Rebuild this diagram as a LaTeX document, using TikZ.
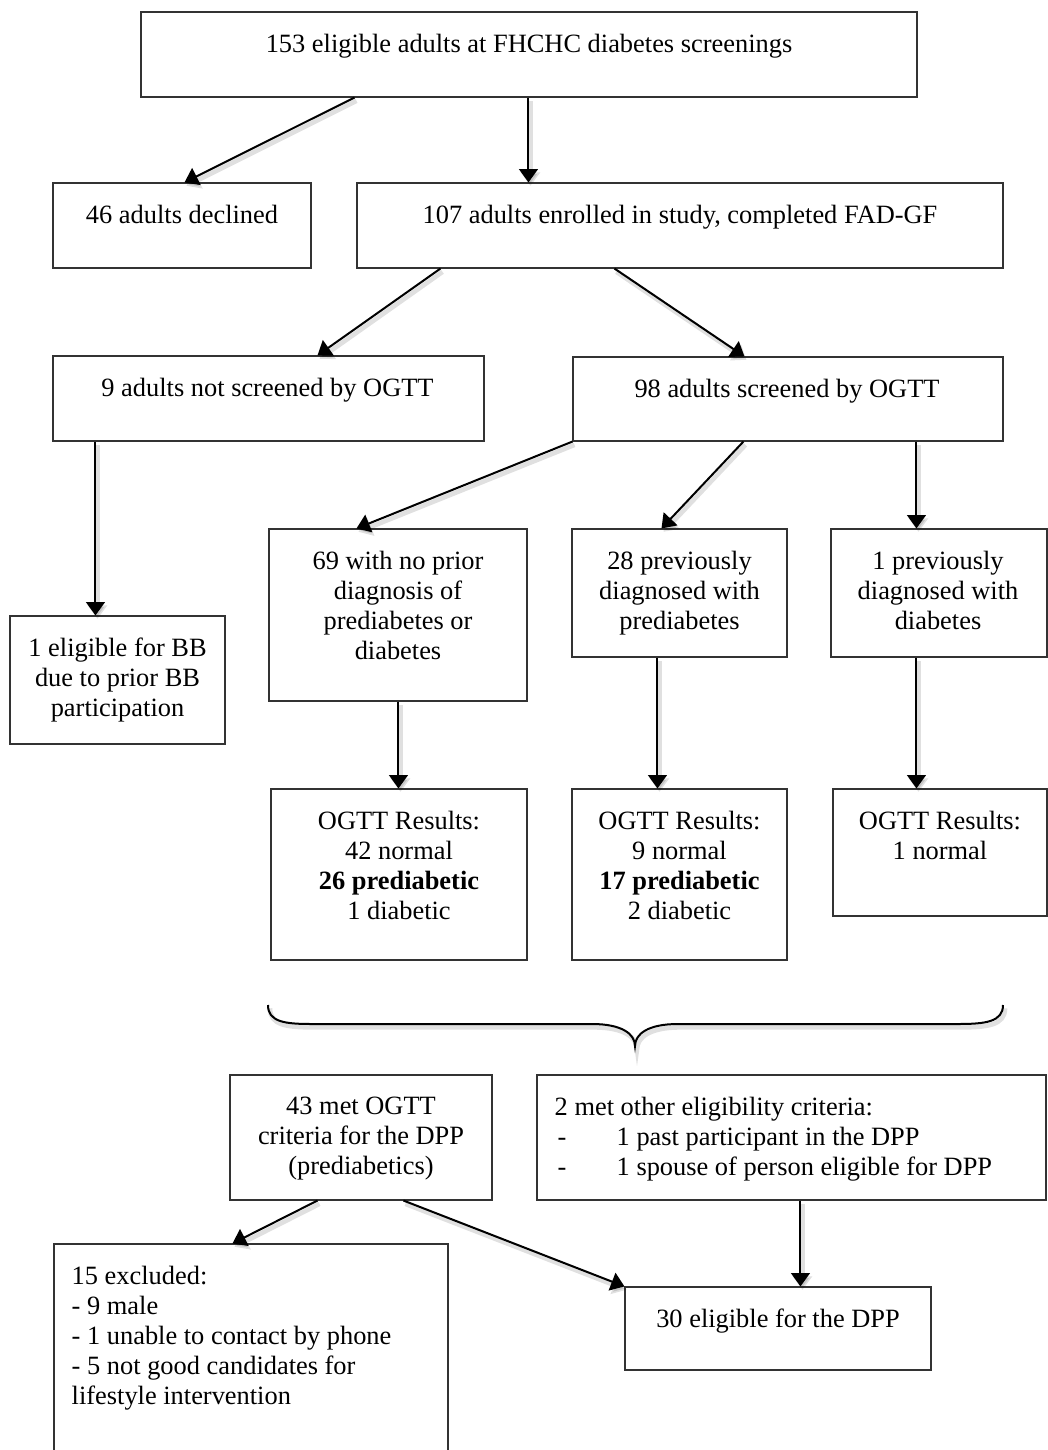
\documentclass[tikz,border=0pt]{standalone}
\usepackage{fontspec}
\setmainfont{Liberation Serif}
\usetikzlibrary{arrows.meta,calc}

% a rectangle given by its corners (in px units)
\newcommand\flowbox[5]{%
  \node[box, minimum width={(#4-#2)*0.75pt}, minimum height={(#5-#3)*0.75pt}]
    (#1) at ({(#2+#4)/2},{(#3+#5)/2}) {};}

\begin{document}
\begin{tikzpicture}[x=0.75pt,y=-0.75pt,
  box/.style={draw=black!80, line width=0.8pt, inner sep=0pt},
  txt/.style={inner sep=0pt, align=center, font=\fontsize{19.8pt}{22.5pt}\selectfont},
  ltxt/.style={inner sep=0pt, align=left, font=\fontsize{19.8pt}{22.5pt}\selectfont},
  shade/.style={preaction={draw=black, opacity=0.12, line width=3.5pt,
      transform canvas={shift={(1.5pt,-2.5pt)}}}},
  arr/.style={line width=1.5pt, shade, -{Triangle[width=14pt,length=10pt]}}]

\clip (0,0) rectangle (1048,1450);
\fill[white] (0,0) rectangle (1048,1450);

% boxes
\flowbox{top}{141}{12}{917}{97}
\flowbox{declined}{53}{183}{311}{268}
\flowbox{enrolled}{357}{183}{1003}{268}
\flowbox{notscr}{53}{356}{484}{441}
\flowbox{scr}{573}{357}{1003}{441}
\flowbox{bb}{10}{616}{225}{744}
\flowbox{noprior}{269}{529}{527}{701}
\flowbox{prevpre}{572}{529}{787}{657}
\flowbox{prevdiab}{831}{529}{1047}{657}
\flowbox{resA}{271}{789}{527}{960}
\flowbox{resB}{572}{789}{787}{960}
\flowbox{resC}{833}{789}{1047}{916}
\flowbox{met}{230}{1075}{492}{1200}
\flowbox{other}{537}{1075}{1046}{1200}
\flowbox{excl}{54}{1244}{448}{1470}
\flowbox{elig}{625}{1287}{931}{1370}

% texts
\node[txt, anchor=north] (top-t) at ($(top.north)+(0,22)$) {153 eligible adults at FHCHC diabetes screenings};
\node[txt, anchor=north] (declined-t) at ($(declined.north)+(0,22)$) {46 adults declined};
\node[txt, anchor=north] (enrolled-t) at ($(enrolled.north)+(0,22)$) {107 adults enrolled in study, completed FAD-GF};
\node[txt, anchor=north] (notscr-t) at ($(notscr.north)+(-1,22)$) {9 adults not screened by OGTT};
\node[txt, anchor=north] (scr-t) at ($(scr.north)+(-1,22)$) {98 adults screened by OGTT};
\node[txt, anchor=north] (bb-t) at ($(bb.north)+(0,22)$) {1 eligible for BB\\due to prior BB\\participation};
\node[txt, anchor=north] (noprior-t) at ($(noprior.north)+(0,22)$) {69 with no prior\\diagnosis of\\prediabetes or\\diabetes};
\node[txt, anchor=north] (prevpre-t) at ($(prevpre.north)+(0,22)$) {28 previously\\diagnosed with\\prediabetes};
\node[txt, anchor=north] (prevdiab-t) at ($(prevdiab.north)+(-1,22)$) {1 previously\\diagnosed with\\diabetes};
\node[txt, anchor=north] (resA-t) at ($(resA.north)+(0,22)$) {OGTT Results:\\42 normal\\\textbf{26 prediabetic}\\1 diabetic};
\node[txt, anchor=north] (resB-t) at ($(resB.north)+(0,22)$) {OGTT Results:\\9 normal\\\textbf{17 prediabetic}\\2 diabetic};
\node[txt, anchor=north] (resC-t) at ($(resC.north)+(0,22)$) {OGTT Results:\\1 normal};
\node[txt, anchor=north] (met-t) at ($(met.north)+(0,22)$) {43 met OGTT\\criteria for the DPP\\(prediabetics)};
\node[ltxt, anchor=north west] (other-t) at ($(other.north west)+(18,22)$)
  {2 met other eligibility criteria:\\
   \makebox[62\dimexpr0.75pt\relax][l]{\hspace{3\dimexpr0.75pt\relax}-}1 past participant in the DPP\\
   \makebox[62\dimexpr0.75pt\relax][l]{\hspace{3\dimexpr0.75pt\relax}-}1 spouse of person eligible for DPP};
\node[ltxt, anchor=north west] (excl-t) at ($(excl.north west)+(18,22)$)
  {15 excluded:\\- 9 male\\- 1 unable to contact by phone\\- 5 not good candidates for\\lifestyle intervention};
\node[txt, anchor=north] (elig-t) at ($(elig.north)+(0,22)$) {30 eligible for the DPP};

% connectors
\draw[arr] ($(top.south west)+(214,0)$) -- ($(declined.north west)+(132,0)$);
\draw[arr] ($(top.south west)+(388,0)$) -- ($(enrolled.north west)+(172,0)$);
\draw[arr] ($(enrolled.south west)+(84,0)$) -- ($(notscr.north west)+(265,0)$);
\draw[arr] ($(enrolled.south west)+(258,0)$) -- ($(scr.north west)+(172,0)$);
\draw[arr] ($(notscr.south west)+(43,0)$) -- ($(bb.north west)+(86,0)$);
\draw[arr] (scr.south west) -- ($(noprior.north west)+(88,0)$);
\draw[arr] ($(scr.south west)+(171,0)$) -- ($(prevpre.north west)+(90,0)$);
\draw[arr] ($(scr.south west)+(344,0)$) -- ($(prevdiab.north west)+(86,0)$);
\draw[arr] ($(noprior.south west)+(130,0)$) -- ($(resA.north west)+(128,0)$);
\draw[arr] ($(prevpre.south west)+(86,0)$) -- ($(resB.north west)+(86,0)$);
\draw[arr] ($(prevdiab.south west)+(86,0)$) -- ($(resC.north west)+(84,0)$);
\draw[arr] ($(met.south west)+(88,0)$) -- ($(excl.north west)+(179,0)$);
\draw[arr] ($(met.south west)+(174,0)$) -- (elig.north west);
\draw[arr] ($(other.south west)+(264,0)$) -- ($(elig.north west)+(176,0)$);

% brace gathering the OGTT results
\draw[line width=1.5pt, shade] (268,1005) .. controls (268,1022) and (285,1024) .. (312,1024)
  -- (592,1024) .. controls (622,1024) and (635,1034) .. (635,1046)
  .. controls (635,1034) and (648,1024) .. (678,1024)
  -- (958,1024) .. controls (985,1024) and (1003,1022) .. (1003,1005);
\end{tikzpicture}
\end{document}
